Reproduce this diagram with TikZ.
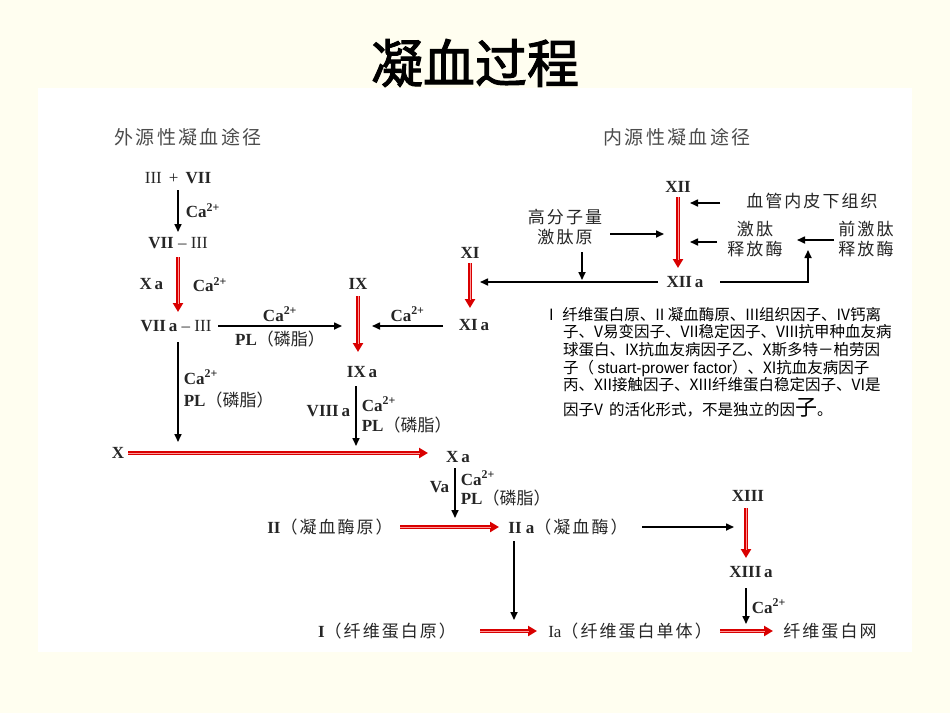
\documentclass[tikz,border=0pt]{standalone}
\usepackage{fontspec}
\setmainfont{Liberation Serif}
\newfontfamily\cjk{Noto Sans CJK SC}
\newfontfamily\cjkw{Noto Sans CJK SC}[LetterSpace=12]
\newfontfamily\cjkb{Noto Sans CJK SC}[FakeBold=2]
\usetikzlibrary{arrows.meta}
\newcommand{\R}[1]{\textbf{#1}}
\newcommand{\ca}{\textbf{Ca}\textsuperscript{\textbf{2+}}}
\newcommand{\pl}{\textbf{PL}{\cjk（磷脂）}}
\begin{document}
\begin{tikzpicture}[x=1pt,y=-1pt,
  lab/.style={font=\fontsize{17}{19}\selectfont,inner sep=1pt,text=black!85},
  zh/.style={font=\cjkw\fontsize{17}{20}\selectfont,inner sep=1pt,text=black!85},
  hd/.style={font=\cjkw\fontsize{19}{21}\selectfont,text=black!70},
  blk/.style={draw=black,line width=1.6pt,-{Triangle[length=8pt,width=7pt]}},
  redd/.style={draw=red!85!black,line width=3.6pt,-{Triangle[length=9pt,width=10pt]},
     postaction={draw=white!60!red,line width=0.8pt,shorten >=8pt,-}},
  note/.style={font=\cjk\fontsize{15.5}{17}\selectfont,anchor=west,inner sep=0pt}]
\fill[yellow!6!white] (0,0) rectangle (950,713);
\useasboundingbox (0,0) rectangle (950,713);
\fill[white] (38,88) rectangle (912,652);
\node[font=\cjkb\fontsize{52}{56}\selectfont] (title) at (475,63) {凝血过程};
\node[hd] (ext) at (188,137) {外源性凝血途径};
\node[hd] (int) at (677,137) {内源性凝血途径};
% extrinsic
\node[lab] (a1) at (178,178) {III \,+\, \R{VII}};
\node[lab] (a2) at (178,243) {\R{VII} -- III};
\node[lab] (a3) at (176,326) {\R{VII\,a} -- III};
\node[lab] (X) at (118,453) {\R{X}};
\draw[blk] (178,190) -- (178,232) node[midway,right=6pt,lab]{\ca};
\draw[redd] (178,257) -- (178,312) node[midway,right=12pt,lab]{\ca} node[midway,left=12pt,lab]{\R{X\,a}};
\node[lab] (IX) at (358,284) {\R{IX}};
\node[lab] (IXa) at (362,372) {\R{IX\,a}};
\draw[blk] (218,326) -- (342,326) node[midway,above=3pt,lab]{\ca} node[midway,below=3pt,lab]{\pl};
\draw[redd] (358,296) -- (358,352);
\node[lab] (XI) at (470,253) {\R{XI}};
\node[lab] (XIa) at (474,325) {\R{XI\,a}};
\draw[redd] (470,263) -- (470,308);
\draw[blk] (443,326) -- (372,326) node[midway,above=3pt,lab]{\ca};
\node[lab] (Xa) at (458,457) {\R{X\,a}};
\draw[blk] (178,342) -- (178,442) node[pos=0.35,right=4pt,lab]{\ca} node[pos=0.58,right=4pt,lab]{\pl};
\draw[blk] (356,386) -- (356,446) node[pos=0.3,right=4pt,lab]{\ca} node[pos=0.65,right=4pt,lab]{\pl} node[pos=0.42,left=4pt,lab]{\R{VIII\,a}};
\draw[redd] (128,453) -- (428,453);
% common
\node[lab] (II) at (330,527) {\R{II}{\cjkw（凝血酶原）}};
\node[lab] (IIa) at (568,527) {\R{II a}{\cjkw（凝血酶）}};
\draw[blk] (455,468) -- (455,518) node[pos=0.38,left=4pt,lab]{\R{Va}} node[pos=0.2,right=4pt,lab]{\ca} node[pos=0.6,right=4pt,lab]{\pl};
\draw[redd] (400,527) -- (499,527);
\node[lab] (XIII) at (748,496) {\R{XIII}};
\node[lab] (XIIIa) at (751,572) {\R{XIII\,a}};
\draw[blk] (642,527) -- (734,527);
\draw[redd] (746,508) -- (746,558);
\node[lab] (F1) at (387,631) {\R{I}{\cjkw（纤维蛋白原）}};
\node[lab] (F2) at (630,631) {Ia{\cjkw（纤维蛋白单体）}};
\node[lab] (F3) at (830,631) {\cjkw 纤维蛋白网};
\draw[blk] (514,541) -- (514,620);
\draw[blk] (746,588) -- (746,624) node[midway,right=4pt,lab]{\ca};
\draw[redd] (480,631) -- (537,631);
\draw[redd] (720,631) -- (773,631);
% intrinsic
\node[lab] (XII) at (678,187) {\R{XII}};
\node[lab] (XIIa) at (685,282) {\R{XII\,a}};
\draw[redd] (678,197) -- (678,268);
\node[zh] (sub) at (812,201) {血管内皮下组织};
\draw[blk] (720,203) -- (690,203);
\node[zh,align=center] (hmw) at (565,227) {高分子量\\激肽原};
\draw[blk] (610,234) -- (664,234);
\node[zh,align=center] (kal) at (755,239) {激肽\\释放酶};
\node[zh,align=center] (pk) at (866,239) {前激肽\\释放酶};
\draw[blk] (717,242) -- (690,242);
\draw[blk] (834,240) -- (797,240);
\draw[blk] (720,282) -- (808,282) -- (808,250);
\draw[blk] (658,282) -- (480,282);
\draw[blk] (582,252) -- (582,280);
% note
\node[note] (n1) at (549,315) {I\,\, 纤维蛋白原、II 凝血酶原、III组织因子、IV钙离};
\node[note] (n2) at (563,332) {子、V易变因子、VII稳定因子、VIII抗甲种血友病};
\node[note] (n3) at (563,350) {球蛋白、IX抗血友病因子乙、X斯多特－柏劳因};
\node[note] (n4) at (563,368) {子（ {\fontspec{Liberation Sans}stuart-prower factor}）、XI抗血友病因子};
\node[note] (n5) at (563,385) {丙、XII接触因子、XIII纤维蛋白稳定因子、VI是};
\node[note] (n6) at (563,408) {因子V\, 的活化形式，不是独立的因{\fontsize{22}{24}\selectfont 子}。};
\end{tikzpicture}
\end{document}
